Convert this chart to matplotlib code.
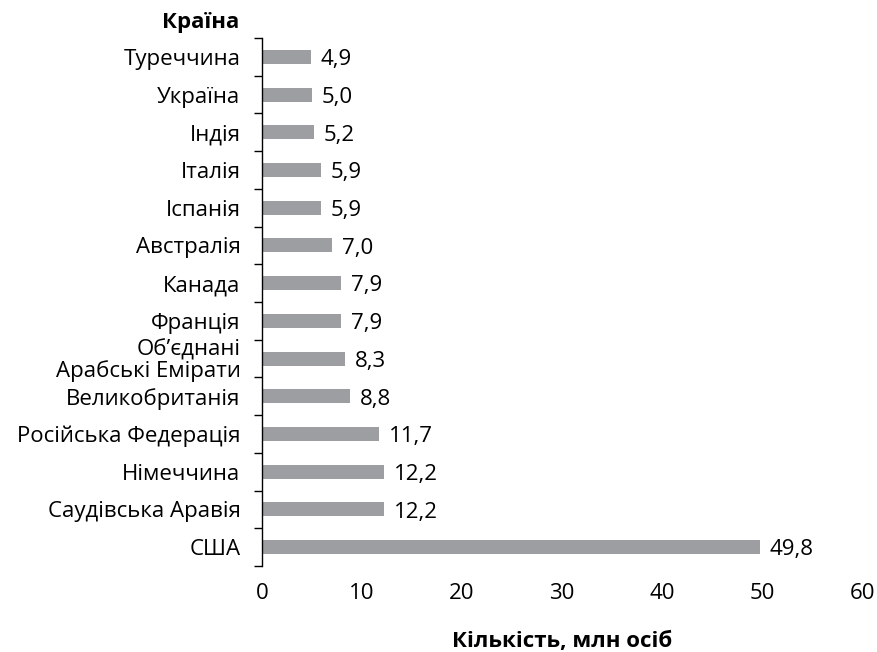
import matplotlib.pyplot as plt
import numpy as np

countries = ["США", "Саудівська Аравія", "Німеччина", "Російська Федерація",
             "Великобританія", "Об’єднані\nАрабські Емірати", "Франція", "Канада",
             "Австралія", "Іспанія", "Італія", "Індія", "Україна", "Туреччина"]
values = [49.8, 12.2, 12.2, 11.7, 8.8, 8.3, 7.9, 7.9, 7.0, 5.9, 5.9, 5.2, 5.0, 4.9]
xticks = [0, 10, 20, 30, 40, 50, 60]

plt.rcParams["font.family"] = ["Open Sans", "DejaVu Sans"]
fs = 16

fig = plt.figure(figsize=(8.78, 6.52), dpi=100)
ax = fig.add_axes([0.2984, 0.1319, 0.6834, 0.8098])

y = np.arange(len(countries))
ax.barh(y, values, height=0.37, color="#9d9ea2")
for yi, v in zip(y, values):
    ax.annotate(f"{v:.1f}".replace(".", ","), (v, yi), xytext=(7, -2),
                textcoords="offset points", va="center", ha="left", fontsize=fs)

ax.set_xlim(0, 60)
ax.set_ylim(-0.5, len(countries) - 0.5)
ax.set_xticks(xticks)
ax.set_xticklabels([str(t) for t in xticks], fontsize=fs)
ax.tick_params(axis="x", length=0, pad=12)

ax.set_yticks(y)
ax.set_yticklabels(countries, fontsize=fs, linespacing=0.95)
ax.set_yticks(np.arange(-0.5, len(countries)), minor=True)
ax.tick_params(axis="y", which="major", length=0, pad=15.5)
ax.tick_params(axis="y", which="minor", length=6, width=1, direction="out")

for s in ["top", "right", "bottom"]:
    ax.spines[s].set_visible(False)
ax.spines["left"].set_linewidth(1)

ax.set_xlabel("Кількість, млн осіб", fontsize=fs, fontweight="bold", labelpad=20)
fig.text(0.273, 0.966, "Країна", fontsize=fs, fontweight="bold", ha="right", va="center")

fig.savefig("out.png", dpi=100)
